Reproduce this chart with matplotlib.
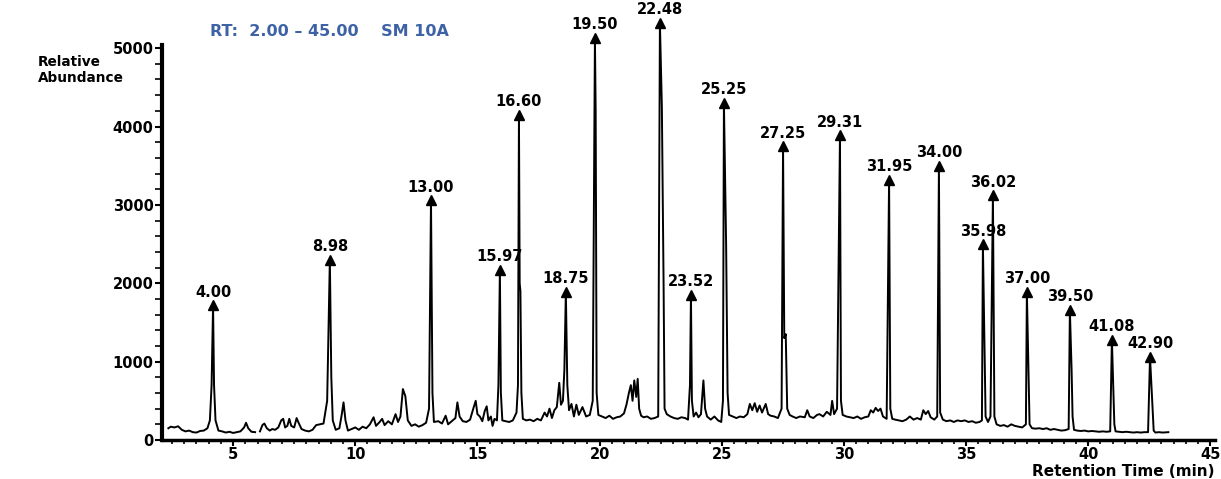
import numpy as np
import matplotlib
matplotlib.use("Agg")
import matplotlib.pyplot as plt
from matplotlib.ticker import MultipleLocator

# chromatogram trace (retention time in min, abundance)
rt = [2.35, 2.45, 2.6, 2.75, 2.9, 3.05, 3.2, 3.35, 3.5, 3.65, 3.8, 3.95, 4.05, 4.12, 4.18, 4.22, 4.28,
      4.4, 4.55, 4.7, 4.85, 5.0, 5.15, 5.3, 5.45, 5.53, 5.62, 5.75, 5.9, 6.0,
      6.1, 6.2, 6.28, 6.38, 6.5, 6.6, 6.72, 6.85, 6.97, 7.05, 7.13, 7.22, 7.3, 7.38, 7.5, 7.6, 7.68,
      7.8, 7.95, 8.1, 8.25, 8.4, 8.55, 8.7, 8.85, 8.96, 9.02, 9.08, 9.2, 9.35, 9.45, 9.52, 9.6, 9.7,
      9.85, 10.0, 10.15, 10.3, 10.45, 10.6, 10.75, 10.85, 11.0, 11.1, 11.2, 11.35, 11.5, 11.65, 11.75,
      11.85, 11.95, 12.05, 12.15, 12.3, 12.45, 12.6, 12.75, 12.9, 13.02, 13.10, 13.16, 13.22, 13.4,
      13.55, 13.7, 13.8, 13.95, 14.1, 14.18, 14.27, 14.4, 14.55, 14.7, 14.85, 14.93, 15.0, 15.1, 15.2,
      15.3, 15.38, 15.45, 15.55, 15.62, 15.7, 15.8, 15.86, 15.92, 15.96, 16.02, 16.15, 16.3, 16.45,
      16.6, 16.66, 16.70, 16.73, 16.76, 16.80, 16.86, 17.0, 17.15, 17.3, 17.45, 17.6, 17.75, 17.85,
      17.95, 18.05, 18.15, 18.25, 18.35, 18.42, 18.5, 18.56, 18.62, 18.68, 18.75, 18.85, 18.95, 19.05,
      19.15, 19.3, 19.45, 19.6, 19.72, 19.81, 19.84, 19.88, 19.95, 20.1, 20.25, 20.4, 20.55, 20.7,
      20.85, 21.0, 21.1, 21.2, 21.28, 21.35, 21.42, 21.5, 21.56, 21.62, 21.7, 21.8, 21.95, 22.1, 22.25,
      22.4, 22.47, 22.55, 22.62, 22.66, 22.75, 22.9, 23.05, 23.2, 23.35, 23.5, 23.62, 23.7, 23.74,
      23.78, 23.85, 23.95, 24.05, 24.15, 24.25, 24.32, 24.4, 24.55, 24.7, 24.85, 24.98, 25.05, 25.09,
      25.18, 25.24, 25.3, 25.45, 25.6, 25.75, 25.9, 26.05, 26.15, 26.25, 26.35, 26.45, 26.55, 26.65,
      26.8, 26.9, 27.0, 27.15, 27.3, 27.45, 27.51, 27.56, 27.62, 27.68, 27.78, 27.9, 28.05, 28.2,
      28.4, 28.5, 28.6, 28.75, 28.9, 29.0, 29.15, 29.3, 29.45, 29.52, 29.6, 29.72, 29.84, 29.88,
      29.95, 30.1, 30.25, 30.4, 30.55, 30.7, 30.85, 31.0, 31.1, 31.2, 31.3, 31.4, 31.5, 31.6, 31.75,
      31.85, 31.9, 31.98, 32.1, 32.25, 32.4, 32.55, 32.7, 32.85, 33.0, 33.15, 33.25, 33.35, 33.45,
      33.55, 33.7, 33.82, 33.89, 33.94, 34.05, 34.2, 34.35, 34.5, 34.65, 34.8, 34.95, 35.1, 35.25,
      35.4, 35.55, 35.65, 35.69, 35.8, 35.9, 36.0, 36.10, 36.16, 36.25, 36.4, 36.55, 36.7, 36.85,
      37.0, 37.15, 37.3, 37.45, 37.49, 37.6, 37.7, 37.85, 38.0, 38.15, 38.3, 38.45, 38.6, 38.75,
      38.9, 39.05, 39.2, 39.25, 39.32, 39.36, 39.42, 39.55, 39.7, 39.85, 40.0, 40.15, 40.3, 40.45,
      40.6, 40.75, 40.9, 40.97, 41.07, 41.12, 41.25, 41.4, 41.55, 41.7, 41.85, 42.0, 42.15, 42.3,
      42.45, 42.53, 42.68, 42.75, 42.9, 43.05, 43.28]
abundance = [150, 170, 160, 175, 130, 110, 120, 100, 95, 115, 120, 150, 250, 700, 1720, 700, 250,
             120, 110, 95, 105, 90, 100, 110, 160, 220, 150, 105, 100, np.nan,
             110, 190, 210, 150, 120, 140, 130, 160, 250, 270, 160, 180, 270, 180, 160, 280, 220,
             140, 120, 110, 130, 190, 200, 210, 500, 2300, 800, 250, 130, 150, 330, 480, 250, 120,
             140, 160, 130, 170, 150, 200, 290, 180, 230, 270, 190, 240, 200, 330, 230,
             300, 650, 560, 250, 180, 200, 170, 190, 220, 400, 3060, 600, 230, 240,
             210, 310, 200, 240, 280, 480, 300, 240, 230, 260, 420, 500, 330, 300, 240,
             370, 430, 250, 300, 180, 270, 250, 700, 2170, 600, 250, 240, 230, 250,
             350, 700, 4150, 2000, 1900, 600, 270, 250, 260, 240, 270, 250, 350, 300,
             400, 280, 380, 420, 730, 450, 500, 900, 1890, 700, 380, 460, 300, 450,
             320, 420, 300, 320, 500, 5130, 4200, 600, 320, 300, 280, 310, 270, 290,
             300, 340, 450, 600, 700, 500, 760, 550, 780, 400, 310, 290, 300, 270, 280,
             300, 5320, 4250, 2000, 400, 330, 300, 280, 270, 290, 280, 260, 700, 1850,
             500, 300, 350, 290, 330, 760, 400, 300, 260, 300, 250, 230, 500, 4300,
             2500, 600, 320, 300, 280, 300, 290, 330, 460, 380, 470, 360, 440, 350,
             460, 330, 310, 300, 280, 400, 3750, 1300, 1350, 400, 320, 300, 280, 300,
             290, 380, 300, 280, 320, 330, 300, 360, 320, 500, 330, 400, 3890, 500,
             320, 300, 290, 280, 300, 270, 290, 300, 380, 350, 410, 370, 400, 300, 270,
             3320, 400, 270, 260, 250, 240, 260, 300, 260, 280, 260, 380, 330, 370,
             290, 260, 300, 3500, 350, 260, 240, 250, 230, 250, 240, 250, 230, 240,
             220, 230, 250, 2500, 300, 230, 300, 3125, 300, 200, 180, 190, 170, 200,
             180, 170, 160, 200, 1890, 200, 150, 145, 150, 140, 150, 130, 140, 130,
             120, 125, 140, 1660, 900, 300, 130, 120, 115, 120, 110, 115, 110, 105,
             110, 105, 110, 1280, 200, 110, 105, 100, 105, 100, 95, 100, 95, 100,
             100, 1060, 120, 95, 100, 95, 100]

# labelled peaks: label text, apex time, apex abundance
peak_labels = ["4.00", "8.98", "13.00", "15.97", "16.60", "18.75", "19.50", "22.48", "23.52", "25.25",
               "27.25", "29.31", "31.95", "34.00", "35.98", "36.02", "37.00", "39.50", "41.08", "42.90"]
peak_rt = [4.18, 8.96, 13.10, 15.92, 16.70, 18.62, 19.81, 22.47, 23.74, 25.09,
           27.51, 29.84, 31.85, 33.89, 35.69, 36.10, 37.49, 39.25, 40.97, 42.53]
peak_height = [1720, 2300, 3060, 2170, 4150, 1890, 5130, 5320, 1850, 4300,
               3750, 3890, 3320, 3500, 2500, 3125, 1890, 1660, 1280, 1060]

y_ticks = [0, 1000, 2000, 3000, 4000, 5000]
x_ticks = [5, 10, 15, 20, 25, 30, 35, 40, 45]

plt.rcParams['font.family'] = ['DejaVu Sans']
plt.rcParams['font.weight'] = 'bold'

fig = plt.figure(figsize=(12.21, 4.79), dpi=100)
ax = fig.add_axes([162/1221, 39/479, (1215-162)/1221, (440-45)/479])

ax.plot(rt, abundance, color='black', linewidth=1.4, clip_on=False)
ax.plot(peak_rt, peak_height, linestyle='none', marker='^', markersize=7,
        color='black', clip_on=False)
for lab, x, y in zip(peak_labels, peak_rt, peak_height):
    ax.annotate(lab, (x, y), xytext=(0, 4), textcoords='offset points',
                ha='center', va='bottom', fontsize=10.5, fontweight='bold',
                annotation_clip=False)

ax.set_xlim(2.09, 45.19)
ax.set_ylim(0, 5040)
ax.set_xticks(x_ticks)
ax.set_yticks(y_ticks)
ax.xaxis.set_minor_locator(MultipleLocator(0.5))
ax.yaxis.set_minor_locator(MultipleLocator(200))

for s in ['top', 'right']:
    ax.spines[s].set_visible(False)
ax.spines['left'].set_linewidth(3)
ax.spines['bottom'].set_linewidth(2.5)
ax.tick_params(axis='both', which='major', direction='out', width=1.5, labelsize=10.5)
ax.tick_params(axis='x', which='major', length=4, pad=1)
ax.tick_params(axis='x', which='minor', length=3, width=1.2)
ax.tick_params(axis='y', which='major', length=5, pad=1)
ax.tick_params(axis='y', which='minor', length=5, width=1.2)
for t in ax.get_xticklabels() + ax.get_yticklabels():
    t.set_fontweight('bold')

fig.text(210/1221, 1 - 32/479, "RT:  2.00 \u2013 45.00    SM 10A", color='#3d62a6',
         fontsize=11.5, fontweight='bold', ha='left', va='center')
fig.text(38/1221, 1 - 70/479, "Relative\nAbundance", fontsize=9.8, fontweight='bold',
         ha='left', va='center', linespacing=1.15)
fig.text(1215/1221, 1 - 471/479, "Retention Time (min)", fontsize=11, fontweight='bold',
         ha='right', va='center')

fig.savefig("out.png", dpi=100)
